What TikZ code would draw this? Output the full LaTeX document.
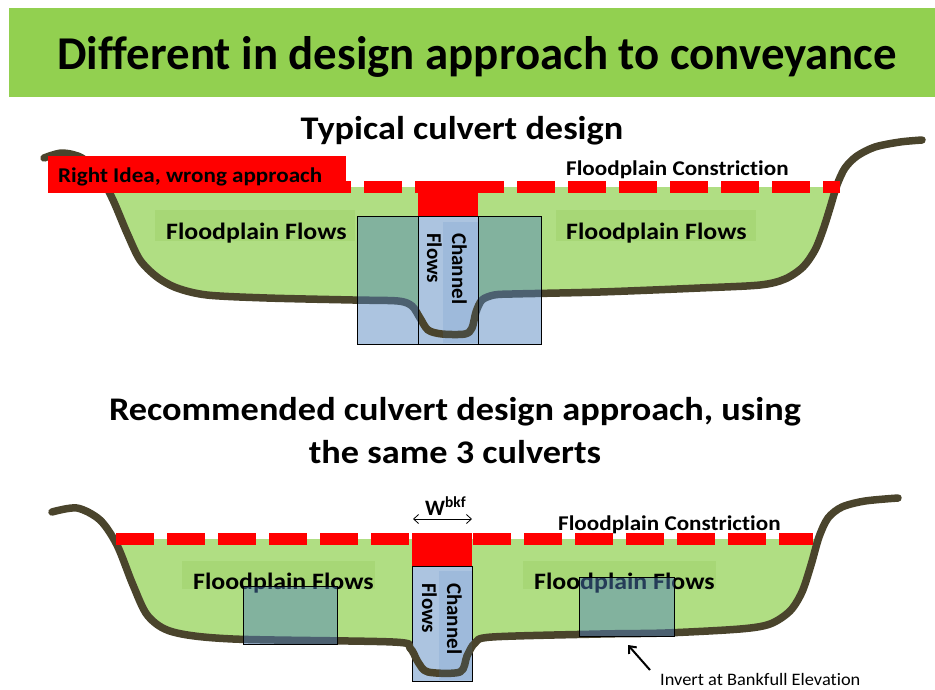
\documentclass[tikz,border=0pt]{standalone}
\usepackage{fontspec}
\usepackage{graphicx}
\setmainfont{Carlito}[Ligatures=NoCommon]
\usetikzlibrary{arrows.meta}

\definecolor{bandgreen}{HTML}{92D050}
\definecolor{plaingreen}{RGB}{176,222,131}
\definecolor{labelgreen}{RGB}{167,215,118}
\definecolor{groundbrown}{RGB}{74,68,44}
\definecolor{culvertblue}{HTML}{4F81BD}
\definecolor{pureRed}{RGB}{255,0,0}

% slide text is set slightly wide
\newcommand{\widetxt}[3][1.1]{\scalebox{#1}[1]{\fontsize{#2}{#2}\selectfont #3}}

\begin{document}
\begin{tikzpicture}[x=1pt,y=-1pt,
  txt/.style={inner sep=0pt, font=\bfseries},
  ground/.style={draw=groundbrown, line width=7.5pt, line cap=round, line join=round},
  constriction/.style={draw=pureRed, line width=12pt, dash pattern=on 37.5pt off 13.5pt},
  culvert/.style={fill=culvertblue, fill opacity=0.47, draw=black, line width=0.9pt},
  maincell/.style={fill=culvertblue!47!white, draw=black, line width=0.9pt},
  chanband/.style={fill=culvertblue, fill opacity=0.14},
]
\useasboundingbox (0,0) rectangle (935,689);

% ---------- title band ----------
\fill[bandgreen] (9,8) rectangle (935,97);
\node[txt, anchor=base] (title) at (477,69)
  {\resizebox{840pt}{33pt}{\bfseries Different in design approach to conveyance}};

% ---------- upper cross-section ----------
\node[txt, anchor=base] (head1) at (462,139) {\widetxt{33}{Typical culvert design}};

\def\upperground{
    (44,158) (62,153) (82,158) (100,176) (113,200) (127,233) (140,260)
    (157,277) (177,288) (207,295) (267,298) (353,300) (398,301) (412,306)
    (420,318) (428,330) (442,334) (465,334) (472,328) (476,312) (482,300)
    (494,295) (512,294) (600,292) (700,288) (760,285) (785,279) (803,267)
    (815,250) (823,230) (830,208) (837,185) (845,168) (857,156) (875,147)
    (900,142) (922,140)}

\begin{scope}
  \clip plot[smooth, tension=0.5] coordinates {\upperground}
    -- (922,100) -- (44,100) -- cycle;
  \fill[plaingreen] (30,187) rectangle (930,400);
\end{scope}

% floodplain labels
\fill[labelgreen] (155,210) rectangle (355,241);
\fill[labelgreen] (556,210) rectangle (756,241);
\node[txt, anchor=base west] (fpL1) at (166,239) {\widetxt{23.5}{Floodplain Flows}};
\node[txt, anchor=base west] (fpR1) at (566,239) {\widetxt{23.5}{Floodplain Flows}};

% main channel cell
\path[maincell] (418,216) rectangle (478,344);

% ground line
\draw[ground] plot[smooth, tension=0.5] coordinates {\upperground};

% side culverts
\path[culvert] (357,216) rectangle (418,344);
\path[culvert] (478,216) rectangle (541,344);
\fill[chanband] (443,222) rectangle (478,343);
\node[txt, rotate=-90, anchor=base west] (ch1) at (452,233) {\fontsize{21}{25}\selectfont Channel};
\node[txt, rotate=-90, anchor=base west] (fl1) at (427,233) {\fontsize{21}{25}\selectfont Flows};

% constriction line and blocks
\draw[constriction] (58,187) -- (840,187);
\fill[pureRed] (418,181) rectangle (478,216);
\fill[pureRed] (48,156) rectangle (346,193);
\node[txt, anchor=base west] (idea) at (58,182) {\widetxt{21}{Right Idea, wrong approach}};
\node[txt, anchor=base west] (fc1) at (566,175) {\widetxt{21}{Floodplain Constriction}};

% ---------- lower cross-section ----------
\node[txt, anchor=base] (head2a) at (455,420) {\widetxt{33}{Recommended culvert design approach, using}};
\node[txt, anchor=base] (head2b) at (455,463) {\widetxt{33}{the same 3 culverts}};

\def\lowerground{
    (52,512) (77,508) (100,520) (117,545) (133,585) (148,616) (173,632)
    (233,639) (393,642) (410,648) (418,662) (428,672) (460,672) (467,656)
    (475,643) (492,637) (600,634) (665,633) (740,629) (770,624) (790,611)
    (802,592) (811,565) (819,537) (828,518) (842,507) (865,501) (898,498)}

\begin{scope}
  \clip plot[smooth, tension=0.5] coordinates {\lowerground}
    -- (898,450) -- (52,450) -- cycle;
  \fill[plaingreen] (30,539) rectangle (930,700);
\end{scope}

\fill[labelgreen] (182,561) rectangle (375,589);
\fill[labelgreen] (523,561) rectangle (716,589);
\node[txt, anchor=base west] (fpL2) at (193,589) {\widetxt{23.5}{Floodplain Flows}};
\node[txt, anchor=base west] (fpR2) at (534,589) {\widetxt{23.5}{Floodplain Flows}};

\path[maincell] (412,566) rectangle (472,681);

\draw[ground] plot[smooth, tension=0.5] coordinates {\lowerground};

\path[culvert] (243,586) rectangle (337,644);
\path[culvert] (579,577) rectangle (674,636);
\fill[chanband] (439,571) rectangle (472,680);
\node[txt, rotate=-90, anchor=base west] (ch2) at (447,583) {\fontsize{21}{25}\selectfont Channel};
\node[txt, rotate=-90, anchor=base west] (fl2) at (422,583) {\fontsize{21}{25}\selectfont Flows};

\draw[constriction] (116,539) -- (813,539);
\fill[pureRed] (412,533) rectangle (472,566);
\node[txt, anchor=base west] (fc2) at (558,530) {\widetxt{21}{Floodplain Constriction}};

% bankfull width
\node[txt, anchor=base west] (wbkf) at (425,515) {\fontsize{22}{26}\selectfont W\textsuperscript{bkf}};
\coordinate (wl) at (413,519);
\coordinate (wr) at (472,519);
\draw[{Straight Barb[length=5pt,width=9pt]}-{Straight Barb[length=5pt,width=9pt]}, line width=0.8pt] (wl) -- (wr);

% invert note
\node[inner sep=0pt, anchor=base west] (invert) at (660,685) {\widetxt[1.05]{17.5}{Invert at Bankfull Elevation}};
\coordinate (ptail) at (650,670);
\coordinate (ptip) at (628,645);
\draw[-{Straight Barb[length=6pt,width=10pt]}, line width=2pt] (ptail) -- (ptip);

\end{tikzpicture}
\end{document}
